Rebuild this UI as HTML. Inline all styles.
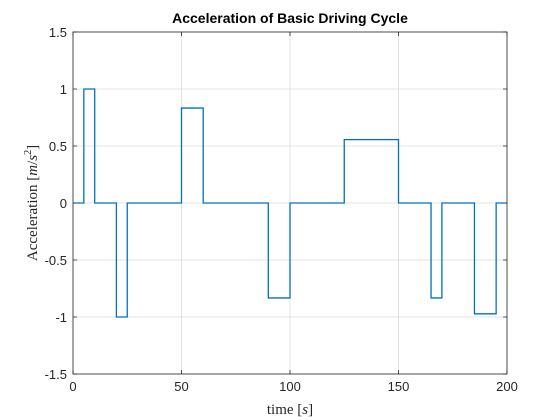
<!DOCTYPE html>
<html><head><meta charset="utf-8"><style>
body{margin:0;background:#fff;}
svg{display:block;font-family:"Liberation Sans",sans-serif;}
</style></head><body>
<svg id="chart" width="560" height="420" viewBox="0 0 560 420">
<rect width="560" height="420" fill="#fff"/>
<g id="grid"></g>
<g id="ticks"></g>
<path id="series" fill="none" stroke="#0072BD" stroke-width="1.3"/>
<rect x="73" y="32" width="434" height="342" fill="none" stroke="#262626" stroke-width="0.8"/>
<text x="290" y="23" text-anchor="middle" font-size="14" font-weight="bold" fill="#000">Acceleration of Basic Driving Cycle</text>
<text x="290" y="414" text-anchor="middle" font-size="15" font-family="Liberation Serif,serif" fill="#262626">time [<tspan font-style="italic">s</tspan>]</text>
<text transform="translate(37,203) rotate(-90)" text-anchor="middle" font-size="15" font-family="Liberation Serif,serif" fill="#262626">Acceleration [<tspan font-style="italic">m</tspan>/<tspan font-style="italic">s</tspan><tspan font-size="10" dy="-6">2</tspan><tspan dy="6">]</tspan></text>
</svg>
<script>
const breakTimes = [0, 5, 10, 20, 25, 50, 60, 90, 100, 125, 150, 165, 170, 185, 195, 200];
const segAccel = [0, 1, 0, -1, 0, 0.833, 0, -0.833, 0, 0.556, 0, -0.833, 0, -0.972, 0];
const xTicks = [0, 50, 100, 150, 200];
const xTickLabels = ["0", "50", "100", "150", "200"];
const yTicks = [-1.5, -1, -0.5, 0, 0.5, 1, 1.5];
const yTickLabels = ["-1.5", "-1", "-0.5", "0", "0.5", "1", "1.5"];

const L=73,R=507,T=32,B=374;
const xs=v=>L+(v-0)/(200-0)*(R-L);
const ys=v=>B-(v+1.5)/3*(B-T);
const NS="http://www.w3.org/2000/svg";
const grid=document.getElementById('grid'), ticks=document.getElementById('ticks');
function mk(tag,attrs,parent){const e=document.createElementNS(NS,tag);for(const k in attrs)e.setAttribute(k,attrs[k]);parent.appendChild(e);return e;}
xTicks.forEach((t,i)=>{
  const x=xs(t);
  const g=mk('line',{x1:x,x2:x,y1:T,y2:B,stroke:'#dcdcdc','stroke-width':0.8},grid);
  
  
  const tk=mk('path',{d:`M${x},${B}v-4M${x},${T}v4`,stroke:'#262626','stroke-width':0.8},ticks);
  
  
  const lb=mk('text',{x:x,y:B+17,'text-anchor':'middle','font-size':13,fill:'#262626'},ticks);
  lb.textContent=xTickLabels[i];
  
  
});
yTicks.forEach((t,i)=>{
  const y=ys(t);
  const g=mk('line',{x1:L,x2:R,y1:y,y2:y,stroke:'#dcdcdc','stroke-width':0.8},grid);
  
  
  const tk=mk('path',{d:`M${L},${y}h4M${R},${y}h-4`,stroke:'#262626','stroke-width':0.8},ticks);
  
  
  const lb=mk('text',{x:L-6,y:y+5,'text-anchor':'end','font-size':13,fill:'#262626'},ticks);
  lb.textContent=yTickLabels[i];
  
  
});
let d=`M${xs(breakTimes[0])},${ys(segAccel[0])}`;
for(let i=0;i<segAccel.length;i++){
  d+=`L${xs(breakTimes[i])},${ys(segAccel[i])}L${xs(breakTimes[i+1])},${ys(segAccel[i])}`;
}
document.getElementById('series').setAttribute('d',d);
</script>
</body></html>
